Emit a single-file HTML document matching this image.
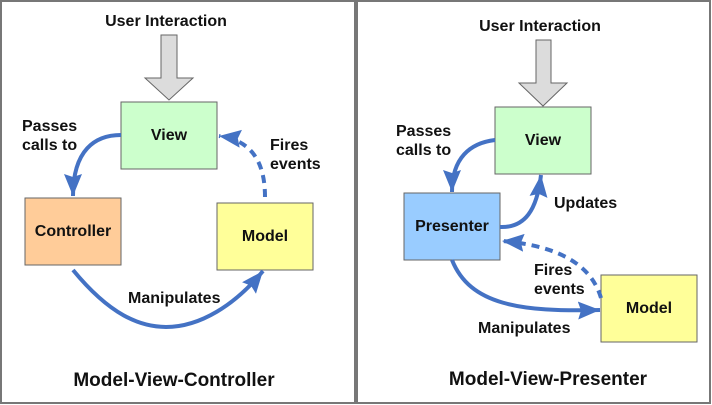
<!DOCTYPE html>
<html><head><meta charset="utf-8"><style>
html,body{margin:0;padding:0;background:#fff;}
svg{display:block;}
text{font-family:"Liberation Sans",Arial,sans-serif;font-weight:bold;fill:#111;}
</style></head><body>
<svg width="712" height="405" viewBox="0 0 712 405" xmlns="http://www.w3.org/2000/svg">
<defs>
<marker id="ah" markerUnits="userSpaceOnUse" markerWidth="26" markerHeight="26" refX="22" refY="10" orient="auto">
<polygon points="0,1 22,10 0,19 3,10" fill="#4472c4"/>
</marker>
</defs>
<rect x="1" y="1" width="354" height="402" fill="#fff" stroke="#777" stroke-width="2"/>
<rect x="357" y="1" width="353" height="402" fill="#fff" stroke="#777" stroke-width="2"/>

<!-- LEFT -->
<text x="166" y="26" font-size="16" text-anchor="middle">User Interaction</text>
<polygon points="161,35 177,35 177,78 193,78 169,100 145,78 161,78" fill="#dcdcdc" stroke="#666" stroke-width="1"/>
<rect x="121" y="102" width="96" height="67" fill="#ccffcc" stroke="#666" stroke-width="1"/>
<text x="169" y="140" font-size="16" text-anchor="middle">View</text>
<rect x="25" y="198" width="96" height="67" fill="#ffcc99" stroke="#666" stroke-width="1"/>
<text x="73" y="236" font-size="16" text-anchor="middle">Controller</text>
<rect x="217" y="203" width="96" height="67" fill="#ffff99" stroke="#666" stroke-width="1"/>
<text x="265" y="241" font-size="16" text-anchor="middle">Model</text>
<text x="22" y="131" font-size="16">Passes</text>
<text x="22" y="150" font-size="16">calls to</text>
<text x="270" y="150" font-size="16">Fires</text>
<text x="270" y="169" font-size="16">events</text>
<text x="128" y="303" font-size="16">Manipulates</text>
<text x="174" y="386" font-size="19" text-anchor="middle">Model-View-Controller</text>
<path d="M121,135 C95,135 73,150 73,196" fill="none" stroke="#4472c4" stroke-width="4" marker-end="url(#ah)"/>
<path d="M265,197 C265,160 250,140 219,136" fill="none" stroke="#4472c4" stroke-width="4" stroke-dasharray="8,6" marker-end="url(#ah)"/>
<path d="M73,270 C110,315 140,327 166,327 C200,327 235,305 263,271" fill="none" stroke="#4472c4" stroke-width="4" marker-end="url(#ah)"/>

<!-- RIGHT -->
<text x="540" y="31" font-size="16" text-anchor="middle">User Interaction</text>
<polygon points="536,40 551,40 551,83 567,83 543,106 519,83 536,83" fill="#dcdcdc" stroke="#666" stroke-width="1"/>
<rect x="495" y="107" width="96" height="67" fill="#ccffcc" stroke="#666" stroke-width="1"/>
<text x="543" y="145" font-size="16" text-anchor="middle">View</text>
<rect x="404" y="193" width="96" height="67" fill="#99ccff" stroke="#666" stroke-width="1"/>
<text x="452" y="231" font-size="16" text-anchor="middle">Presenter</text>
<rect x="601" y="275" width="96" height="67" fill="#ffff99" stroke="#666" stroke-width="1"/>
<text x="649" y="313" font-size="16" text-anchor="middle">Model</text>
<text x="396" y="136" font-size="16">Passes</text>
<text x="396" y="155" font-size="16">calls to</text>
<text x="554" y="208" font-size="16">Updates</text>
<text x="534" y="275" font-size="16">Fires</text>
<text x="534" y="294" font-size="16">events</text>
<text x="478" y="333" font-size="16">Manipulates</text>
<text x="548" y="385" font-size="19" text-anchor="middle">Model-View-Presenter</text>
<path d="M495,140 C470,143 452,158 452,192" fill="none" stroke="#4472c4" stroke-width="4" marker-end="url(#ah)"/>
<path d="M500,227 C525,228 537,210 541,175" fill="none" stroke="#4472c4" stroke-width="4" marker-end="url(#ah)"/>
<path d="M601,298 C590,260 550,245 502,241" fill="none" stroke="#4472c4" stroke-width="4" stroke-dasharray="8,6" marker-end="url(#ah)"/>
<path d="M452,260 C470,305 520,312 600,310" fill="none" stroke="#4472c4" stroke-width="4" marker-end="url(#ah)"/>
</svg>
</body></html>
